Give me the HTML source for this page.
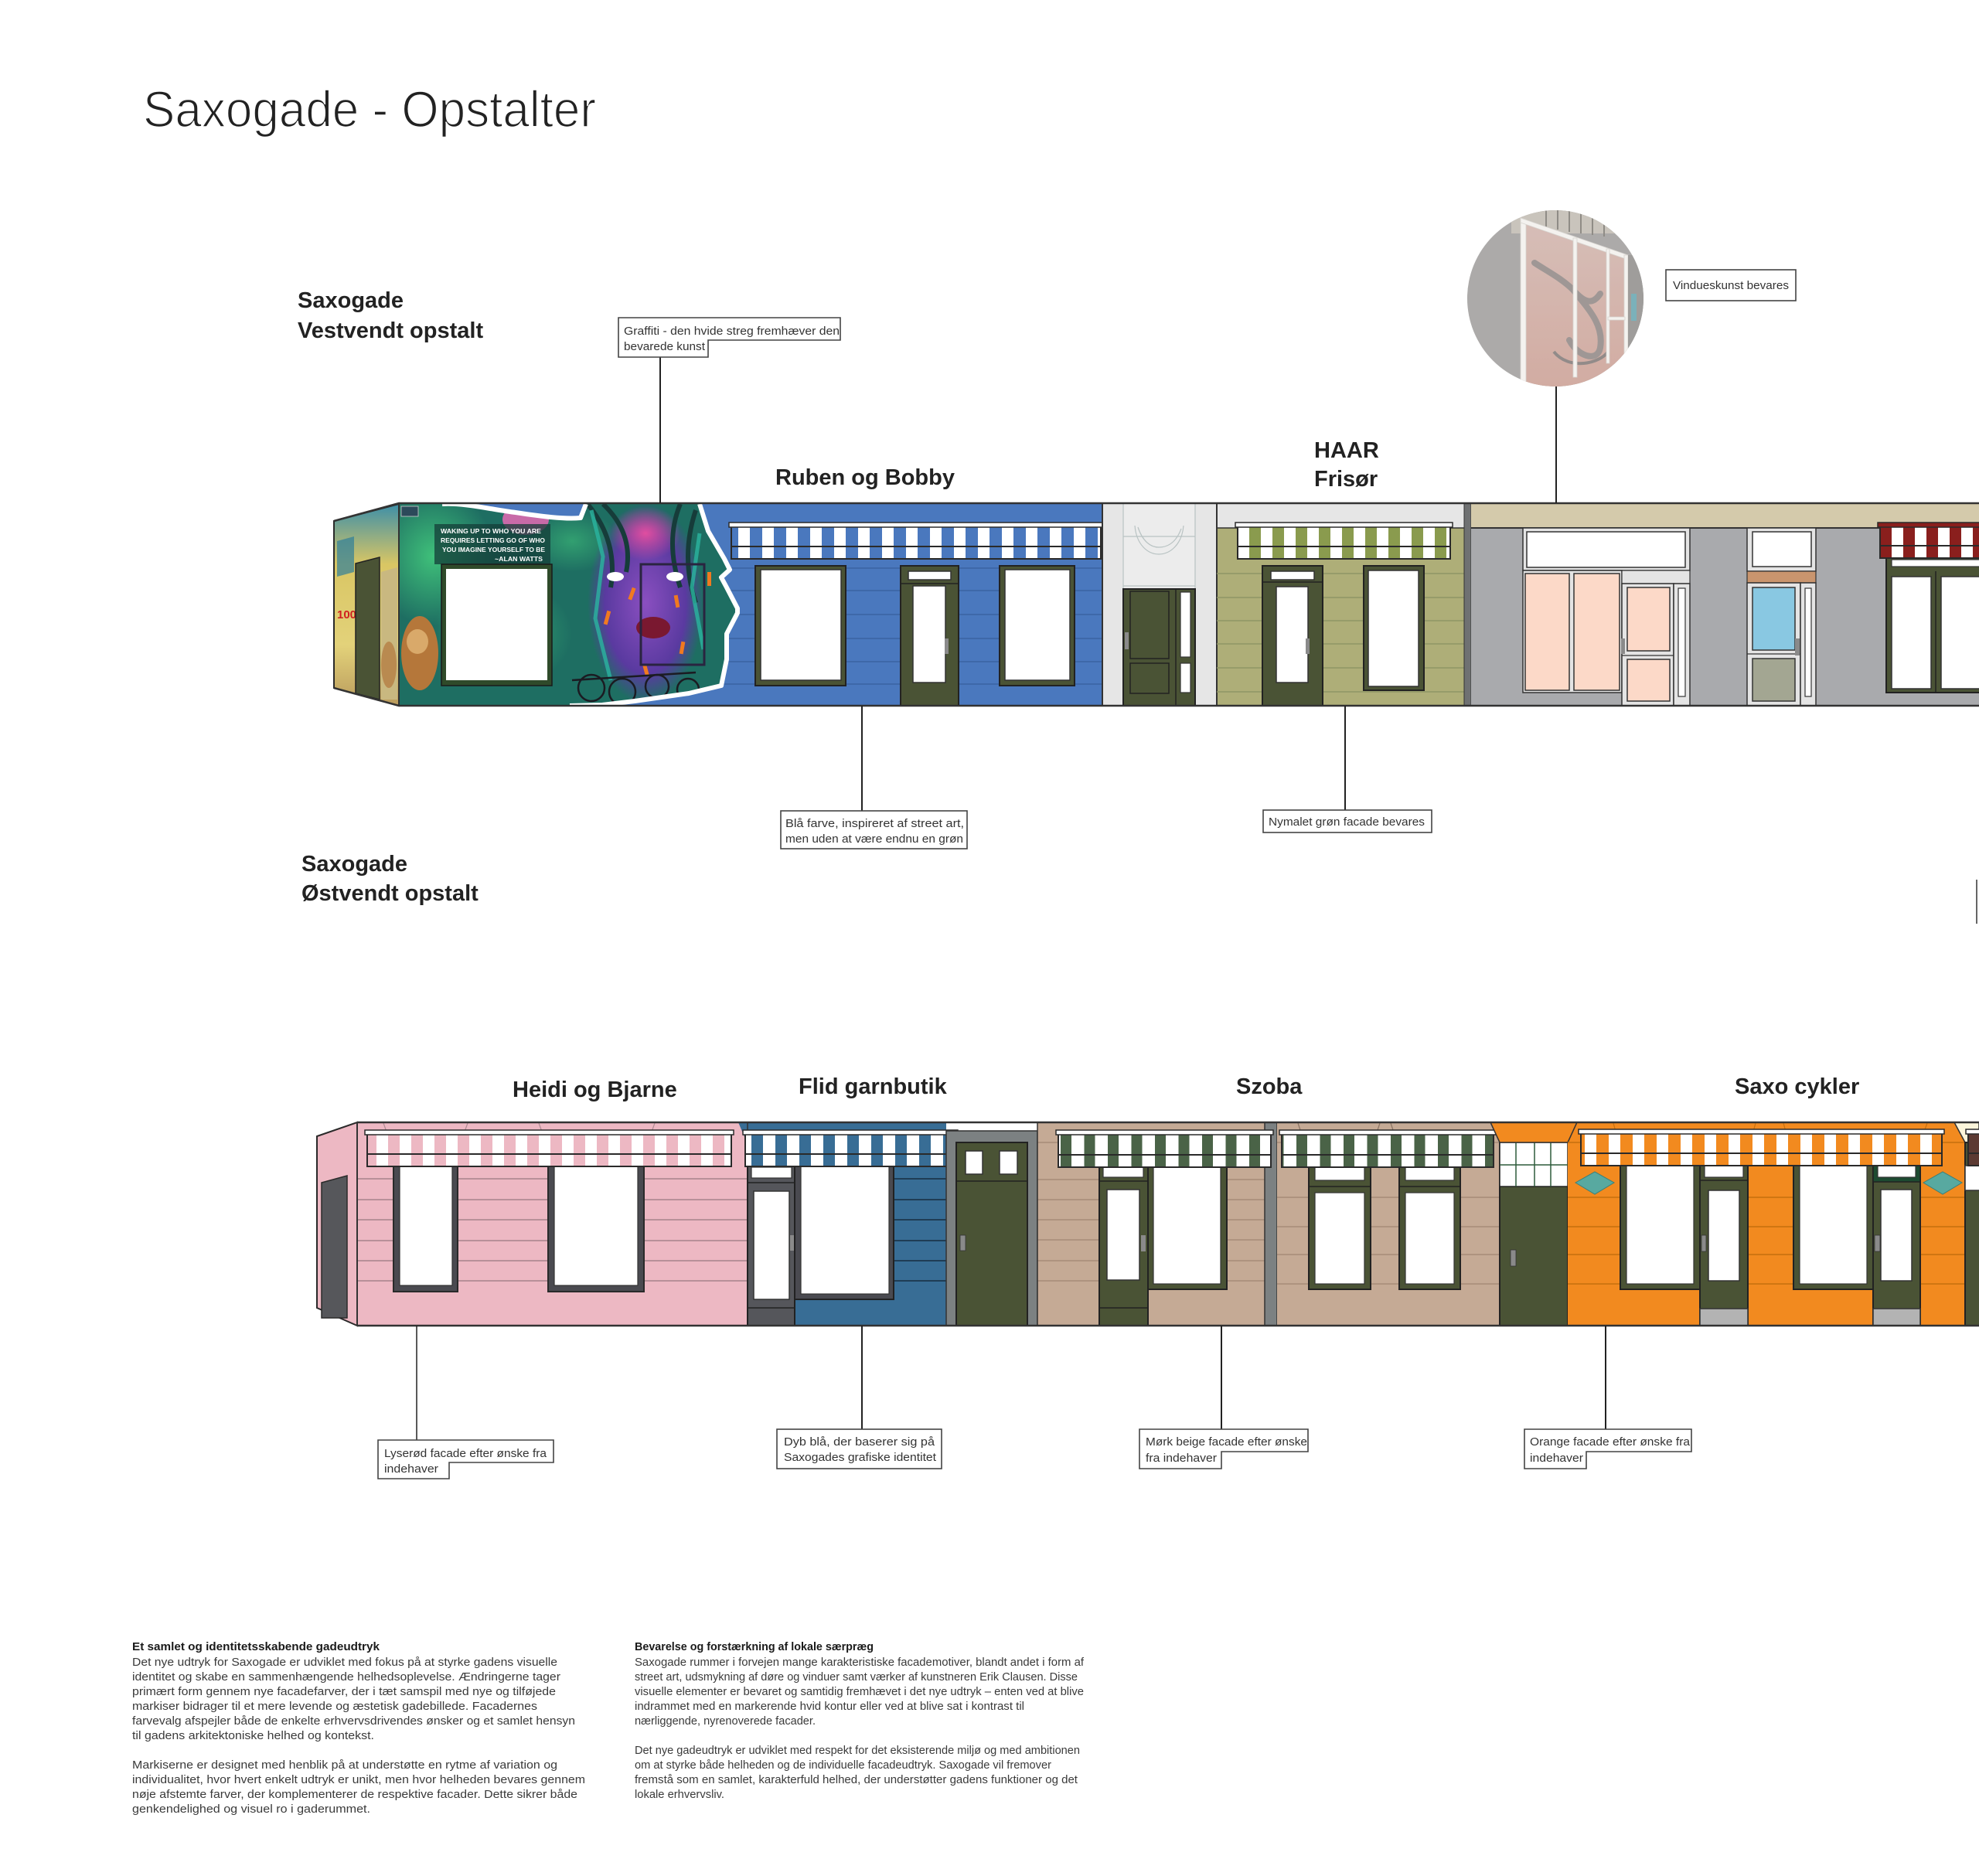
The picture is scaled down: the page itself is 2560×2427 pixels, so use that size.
<!DOCTYPE html>
<html><head><meta charset="utf-8">
<style>
html,body{margin:0;padding:0;background:#fff;}
body{width:2560px;height:2427px;overflow:hidden;}
svg{display:block}
text{font-family:"Liberation Sans",Arial,sans-serif;}
</style></head>
<body>
<svg width="2560" height="2427" viewBox="0 0 2560 2427" xmlns="http://www.w3.org/2000/svg">
<defs>
  <pattern id="pB" patternUnits="userSpaceOnUse" x="946" y="0" width="31" height="100"><rect width="31" height="100" fill="#4a78be"/><rect x="9" width="15" height="100" fill="#fff"/></pattern>
  <pattern id="pG" patternUnits="userSpaceOnUse" x="1601" y="0" width="30" height="100"><rect width="30" height="100" fill="#fff"/><rect x="15" width="15" height="100" fill="#8a9b4e"/></pattern>
  <pattern id="pR" patternUnits="userSpaceOnUse" x="2432" y="0" width="30" height="100"><rect width="30" height="100" fill="#fff"/><rect x="0" width="15" height="100" fill="#8a1f1d"/></pattern>
  <pattern id="pP" patternUnits="userSpaceOnUse" x="475" y="0" width="30" height="100"><rect width="30" height="100" fill="#edb8c3"/><rect x="12" width="15" height="100" fill="#fff"/></pattern>
  <pattern id="pF" patternUnits="userSpaceOnUse" x="964" y="0" width="31" height="100"><rect width="31" height="100" fill="#fff"/><rect x="8" width="15" height="100" fill="#386d95"/></pattern>
  <pattern id="pS" patternUnits="userSpaceOnUse" x="1369" y="0" width="30.5" height="100"><rect width="30.5" height="100" fill="#fff"/><rect x="3" width="14" height="100" fill="#4a6347"/></pattern>
  <pattern id="pO" patternUnits="userSpaceOnUse" x="2045" y="0" width="31" height="100"><rect width="31" height="100" fill="#f28a1f"/><rect x="5" width="15" height="100" fill="#fff"/></pattern>
  <pattern id="pBr" patternUnits="userSpaceOnUse" x="2546" y="0" width="30" height="100"><rect width="30" height="100" fill="#fff"/><rect x="0" width="14" height="100" fill="#5c3a33"/></pattern>
  <clipPath id="gclip"><path d="M516,652 L572,652 C600,650 640,660 667,663 C700,668 730,672 751,670 L758,652 L905,652 L916,687 L937,723 L944,737 L933,747 L940,760 L954,787 L954,793 L940,820 L940,853 L933,887 L891,897 L821,907 L779,912 L737,913 L516,913 Z"/></clipPath>
  <clipPath id="cc"><circle cx="2012" cy="386" r="114"/></clipPath>
  <radialGradient id="rg1" cx="0.5" cy="0.5" r="0.5"><stop offset="0" stop-color="#3fc07a"/><stop offset="1" stop-color="#3fc07a" stop-opacity="0"/></radialGradient>
  <radialGradient id="rg2" cx="0.5" cy="0.5" r="0.5"><stop offset="0" stop-color="#e04ea0"/><stop offset="1" stop-color="#e04ea0" stop-opacity="0"/></radialGradient>
  <radialGradient id="rg3" cx="0.5" cy="0.5" r="0.5"><stop offset="0" stop-color="#8a4fc0"/><stop offset="0.7" stop-color="#5a3aa0"/><stop offset="1" stop-color="#5a3aa0" stop-opacity="0"/></radialGradient>
  <linearGradient id="sideg" x1="0" y1="0" x2="0" y2="1"><stop offset="0" stop-color="#3d8fa8"/><stop offset="0.3" stop-color="#d9c664"/><stop offset="0.7" stop-color="#e3d27a"/><stop offset="1" stop-color="#b99a5c"/></linearGradient>
  <linearGradient id="pinkg" x1="0" y1="0" x2="0" y2="1"><stop offset="0" stop-color="#cdb0a8"/><stop offset="1" stop-color="#c99a8e"/></linearGradient>
</defs>

<!-- TITLE -->
<text x="185" y="164" font-size="66" fill="#222" stroke="#fff" stroke-width="1.6" textLength="586" lengthAdjust="spacingAndGlyphs">Saxogade - Opstalter</text>

<!-- Section headings -->
<text x="385" y="398" font-size="29" font-weight="bold" fill="#222">Saxogade</text>
<text x="385" y="437" font-size="29" font-weight="bold" fill="#222">Vestvendt opstalt</text>
<text x="390" y="1127" font-size="29" font-weight="bold" fill="#222">Saxogade</text>
<text x="390" y="1165" font-size="29" font-weight="bold" fill="#222">Østvendt opstalt</text>

<text x="1003" y="627" font-size="29" font-weight="bold" fill="#222">Ruben og Bobby</text>
<text x="1700" y="592" font-size="29" font-weight="bold" fill="#222">HAAR</text>
<text x="1700" y="629" font-size="29" font-weight="bold" fill="#222">Frisør</text>

<text x="663" y="1419" font-size="29" font-weight="bold" fill="#222">Heidi og Bjarne</text>
<text x="1033" y="1415" font-size="29" font-weight="bold" fill="#222">Flid garnbutik</text>
<text x="1599" y="1415" font-size="29" font-weight="bold" fill="#222">Szoba</text>
<text x="2244" y="1415" font-size="29" font-weight="bold" fill="#222">Saxo cykler</text>

<!-- ================= TOP ROW ================= -->
<polygon points="432,674 516,652 516,913 432,890" fill="url(#sideg)" stroke="#2a2a2a" stroke-width="2"/>
<polygon points="436,700 458,694 458,740 436,746" fill="#2f7f9a" opacity="0.7"/>
<text x="436" y="800" font-size="15" font-weight="bold" fill="#d02020">100</text>
<polygon points="460,729 491,721 491,905 460,897" fill="#4a5335" stroke="#222" stroke-width="1.5"/>
<polygon points="493,740 514,734 514,905 493,905" fill="#c9b880"/>
<ellipse cx="503" cy="860" rx="10" ry="30" fill="#b98a50"/>

<rect x="516" y="651" width="910" height="262" fill="#4a78be"/>
<g stroke="#3b62a2" stroke-width="1.5">
  <line x1="900" y1="735" x2="1426" y2="735"/><line x1="900" y1="764" x2="1426" y2="764"/>
  <line x1="900" y1="795" x2="1426" y2="795"/><line x1="900" y1="826" x2="1426" y2="826"/>
  <line x1="900" y1="856" x2="1426" y2="856"/><line x1="900" y1="885" x2="1426" y2="885"/>
</g>

<g clip-path="url(#gclip)">
  <rect x="516" y="651" width="440" height="262" fill="#1e6e62"/>
  <ellipse cx="560" cy="720" rx="80" ry="90" fill="url(#rg1)"/>
  <ellipse cx="650" cy="820" rx="90" ry="70" fill="url(#rg1)" opacity="0.7"/>
  <ellipse cx="740" cy="700" rx="60" ry="40" fill="url(#rg1)" opacity="0.6"/>
  <ellipse cx="680" cy="672" rx="30" ry="20" fill="#c86aa8"/>
  <ellipse cx="835" cy="780" rx="75" ry="130" fill="url(#rg3)"/>
  <ellipse cx="835" cy="690" rx="45" ry="35" fill="url(#rg2)"/>
  <path d="M760,652 Q800,700 790,760 M780,652 Q820,690 810,740 M880,652 Q860,700 880,760 M900,660 Q880,720 900,780" stroke="#163c3a" stroke-width="6" fill="none"/>
  <path d="M765,660 L780,720 L770,800 L790,880 M905,690 L895,760 L910,840" stroke="#2bb5a0" stroke-width="5" fill="none" opacity="0.8"/>
  <ellipse cx="796" cy="746" rx="11" ry="6" fill="#fff"/>
  <ellipse cx="873" cy="746" rx="11" ry="6" fill="#fff"/>
  <ellipse cx="845" cy="812" rx="22" ry="14" fill="#7a1830"/>
  <g fill="#f07a20">
    <rect x="815" y="760" width="5" height="16" transform="rotate(20 817 768)"/>
    <rect x="783" y="790" width="5" height="18" transform="rotate(15 785 799)"/>
    <rect x="873" y="770" width="5" height="16" transform="rotate(-10 875 778)"/>
    <rect x="880" y="830" width="5" height="16" transform="rotate(10 882 838)"/>
    <rect x="915" y="740" width="5" height="18"/>
    <rect x="833" y="860" width="5" height="14" transform="rotate(-15 835 867)"/>
  </g>
  <ellipse cx="543" cy="845" rx="24" ry="48" fill="#b5773a"/>
  <ellipse cx="540" cy="830" rx="14" ry="16" fill="#d9a96a"/>
  <rect x="562" y="678" width="150" height="52" fill="#143e38" opacity="0.75"/>
  <rect x="519" y="655" width="22" height="13" fill="#2c4a5a" stroke="#ccc" stroke-width="0.8"/>
  <g fill="none" stroke="#1b1b22" stroke-width="2.5">
    <circle cx="765" cy="890" r="17"/><circle cx="805" cy="895" r="17"/><circle cx="850" cy="888" r="15"/><circle cx="890" cy="892" r="14"/>
    <path d="M740,880 L900,870"/>
  </g>
  <rect x="571" y="730" width="143" height="157" fill="#2f4a2a" stroke="#1a1a1a" stroke-width="1.5"/>
  <rect x="577" y="736" width="131" height="144" fill="#fff"/>
  <rect x="829" y="730" width="82" height="130" fill="none" stroke="#2a2440" stroke-width="3"/>
  <text x="570" y="690" font-size="8.5" font-weight="bold" fill="#fff" textLength="130" lengthAdjust="spacingAndGlyphs">WAKING UP TO WHO YOU ARE</text>
  <text x="570" y="702" font-size="8.5" font-weight="bold" fill="#fff" textLength="135" lengthAdjust="spacingAndGlyphs">REQUIRES LETTING GO OF WHO</text>
  <text x="572" y="714" font-size="8.5" font-weight="bold" fill="#fff" textLength="133" lengthAdjust="spacingAndGlyphs">YOU IMAGINE YOURSELF TO BE</text>
  <text x="640" y="726" font-size="8.5" font-weight="bold" fill="#fff" textLength="62" lengthAdjust="spacingAndGlyphs">~ALAN WATTS</text>
</g>
<path d="M572,652 C600,650 640,660 667,663 C700,668 730,672 751,670 L758,652 M905,652 L916,687 L937,723 L944,737 L933,747 L940,760 L954,787 L954,793 L940,820 L940,853 L933,887 L891,897 L821,907 L779,912 L737,913" fill="none" stroke="#fff" stroke-width="6" stroke-linejoin="round"/>

<rect x="946" y="681" width="478" height="42" fill="url(#pB)" stroke="#2a2a2a" stroke-width="2"/>
<line x1="946" y1="707" x2="1424" y2="707" stroke="#2a2a2a" stroke-width="2"/>
<rect x="943" y="676" width="484" height="6" fill="#fff" stroke="#2a2a2a" stroke-width="1.5"/>
<rect x="977" y="732" width="117" height="155" fill="#4a5335" stroke="#222" stroke-width="2"/>
<rect x="984" y="737" width="104" height="143" fill="#fff" stroke="#333" stroke-width="1.5"/>
<rect x="1165" y="732" width="75" height="181" fill="#4a5335" stroke="#222" stroke-width="2"/>
<rect x="1175" y="739" width="55" height="11" fill="#fff" stroke="#333" stroke-width="1.5"/>
<line x1="1165" y1="755" x2="1240" y2="755" stroke="#222" stroke-width="1.5"/>
<rect x="1181" y="758" width="42" height="125" fill="#fff" stroke="#333" stroke-width="1.5"/>
<rect x="1222" y="826" width="5" height="20" fill="#8a8a8a"/>
<rect x="1293" y="732" width="97" height="155" fill="#4a5335" stroke="#222" stroke-width="2"/>
<rect x="1300" y="737" width="84" height="143" fill="#fff" stroke="#333" stroke-width="1.5"/>

<rect x="1426" y="651" width="148" height="262" fill="#e6e6e6" stroke="#333" stroke-width="1.5"/>
<rect x="1453" y="651" width="93" height="111" fill="#ececec"/>
<g stroke="#b9c3c3" stroke-width="1.2" fill="none">
  <line x1="1453" y1="651" x2="1453" y2="762"/><line x1="1546" y1="651" x2="1546" y2="762"/>
  <line x1="1453" y1="694" x2="1546" y2="694"/><line x1="1453" y1="758" x2="1546" y2="758"/><line x1="1453" y1="782" x2="1546" y2="782"/>
  <path d="M1468,680 C1470,705 1485,717 1499,717 C1513,717 1529,705 1531,680"/>
  <path d="M1472,682 C1478,700 1488,708 1499,708 C1512,708 1522,700 1528,684"/>
</g>
<rect x="1453" y="762" width="93" height="151" fill="#4a5335" stroke="#222" stroke-width="2"/>
<line x1="1521" y1="762" x2="1521" y2="913" stroke="#222" stroke-width="1.5"/>
<rect x="1462" y="765" width="50" height="87" fill="#4a5335" stroke="#222" stroke-width="1.5"/>
<rect x="1462" y="858" width="50" height="39" fill="#4a5335" stroke="#222" stroke-width="1.5"/>
<rect x="1527" y="766" width="13" height="84" fill="#fff" stroke="#333" stroke-width="1.2"/>
<rect x="1527" y="858" width="13" height="38" fill="#fff" stroke="#333" stroke-width="1.2"/>
<rect x="1455" y="818" width="5" height="22" fill="#8a8a8a"/>

<rect x="1574" y="651" width="320" height="32" fill="#e6e6e6"/>
<rect x="1574" y="683" width="320" height="230" fill="#aeae78"/>
<line x1="1574" y1="683" x2="1894" y2="683" stroke="#333" stroke-width="1.5"/>
<line x1="1574" y1="651" x2="1574" y2="913" stroke="#333" stroke-width="2"/>
<g stroke="#8d9566" stroke-width="1.5">
  <line x1="1574" y1="742" x2="1894" y2="742"/><line x1="1574" y1="773" x2="1894" y2="773"/>
  <line x1="1574" y1="803" x2="1894" y2="803"/><line x1="1574" y1="833" x2="1894" y2="833"/>
  <line x1="1574" y1="864" x2="1894" y2="864"/><line x1="1574" y1="895" x2="1894" y2="895"/>
</g>
<rect x="1601" y="681" width="275" height="42" fill="url(#pG)" stroke="#2a2a2a" stroke-width="2"/>
<line x1="1601" y1="707" x2="1876" y2="707" stroke="#2a2a2a" stroke-width="2"/>
<rect x="1598" y="676" width="281" height="6" fill="#fff" stroke="#2a2a2a" stroke-width="1.5"/>
<rect x="1633" y="732" width="78" height="181" fill="#4a5335" stroke="#222" stroke-width="2"/>
<rect x="1644" y="739" width="56" height="11" fill="#fff" stroke="#333" stroke-width="1.5"/>
<line x1="1633" y1="753" x2="1711" y2="753" stroke="#222" stroke-width="1.5"/>
<rect x="1651" y="759" width="41" height="124" fill="#fff" stroke="#333" stroke-width="1.5"/>
<rect x="1689" y="826" width="5" height="20" fill="#8a8a8a"/>
<rect x="1764" y="732" width="78" height="161" fill="#4a5335" stroke="#222" stroke-width="2"/>
<rect x="1770" y="738" width="65" height="150" fill="#fff" stroke="#333" stroke-width="1.5"/>

<rect x="1894" y="651" width="9" height="262" fill="#6f7172" stroke="#333" stroke-width="1"/>

<rect x="1903" y="651" width="657" height="32" fill="#d4caab"/>
<rect x="1903" y="683" width="657" height="230" fill="#a9aaad"/>
<line x1="1903" y1="683" x2="2560" y2="683" stroke="#333" stroke-width="2"/>

<rect x="1970" y="683" width="216" height="55" fill="#e4e4e4" stroke="#333" stroke-width="1.5"/>
<rect x="1975" y="688" width="205" height="46" fill="#fff" stroke="#333" stroke-width="1.5"/>
<rect x="1970" y="738" width="128" height="158" fill="#e4e4e4" stroke="#333" stroke-width="1.5"/>
<rect x="1973" y="742" width="57" height="151" fill="#fcd9c8" stroke="#333" stroke-width="1.5"/>
<rect x="2036" y="742" width="59" height="151" fill="#fcd9c8" stroke="#333" stroke-width="1.5"/>
<rect x="2098" y="738" width="88" height="17" fill="#e4e4e4" stroke="#333" stroke-width="1.2"/>
<rect x="2098" y="755" width="67" height="158" fill="#e4e4e4" stroke="#333" stroke-width="1.5"/>
<rect x="2105" y="760" width="55" height="82" fill="#fcd9c8" stroke="#333" stroke-width="1.5"/>
<line x1="2098" y1="848" x2="2165" y2="848" stroke="#333" stroke-width="1.2"/>
<rect x="2105" y="853" width="55" height="54" fill="#fcd9c8" stroke="#333" stroke-width="1.5"/>
<rect x="2165" y="755" width="21" height="158" fill="#e4e4e4" stroke="#333" stroke-width="1.5"/>
<rect x="2171" y="761" width="9" height="140" fill="#fff" stroke="#333" stroke-width="1.2"/>
<rect x="2097" y="826" width="5" height="20" fill="#8a8a8a"/>

<rect x="2260" y="683" width="89" height="56" fill="#e4e4e4" stroke="#333" stroke-width="1.5"/>
<rect x="2267" y="688" width="76" height="45" fill="#fff" stroke="#333" stroke-width="1.5"/>
<rect x="2260" y="739" width="89" height="15" fill="#c9956e" stroke="#333" stroke-width="1.2"/>
<rect x="2260" y="754" width="69" height="159" fill="#e4e4e4" stroke="#333" stroke-width="1.5"/>
<rect x="2267" y="760" width="55" height="81" fill="#89c8e2" stroke="#333" stroke-width="1.5"/>
<line x1="2260" y1="846" x2="2329" y2="846" stroke="#333" stroke-width="1.2"/>
<rect x="2267" y="852" width="55" height="55" fill="#a3a692" stroke="#333" stroke-width="1.5"/>
<rect x="2329" y="754" width="20" height="159" fill="#e4e4e4" stroke="#333" stroke-width="1.5"/>
<rect x="2335" y="761" width="8" height="140" fill="#fff" stroke="#333" stroke-width="1.2"/>
<rect x="2322" y="826" width="6" height="22" fill="#8a8a8a"/>

<rect x="2440" y="722" width="130" height="174" fill="#4a5335" stroke="#222" stroke-width="2"/>
<rect x="2447" y="724" width="120" height="9" fill="#fff" stroke="#333" stroke-width="1.2"/>
<rect x="2447" y="746" width="51" height="145" fill="#fff" stroke="#333" stroke-width="1.5"/>
<rect x="2511" y="746" width="60" height="145" fill="#fff" stroke="#333" stroke-width="1.5"/>
<line x1="2504" y1="739" x2="2504" y2="896" stroke="#222" stroke-width="1.5"/>
<rect x="2432" y="681" width="140" height="41" fill="url(#pR)" stroke="#2a2a2a" stroke-width="2"/>
<line x1="2432" y1="706" x2="2560" y2="706" stroke="#2a2a2a" stroke-width="2"/>
<rect x="2429" y="676" width="140" height="6" fill="#8a1f1d" stroke="#2a2a2a" stroke-width="1.5"/>

<path d="M432,674 L516,651 L2560,651" fill="none" stroke="#333" stroke-width="2.5"/>
<path d="M432,890 L516,913 L2560,913" fill="none" stroke="#333" stroke-width="2.5"/>
<line x1="516" y1="651" x2="516" y2="913" stroke="#333" stroke-width="2"/>
<line x1="1426" y1="651" x2="1426" y2="913" stroke="#333" stroke-width="2"/>

<!-- circle photo -->
<g clip-path="url(#cc)">
  <rect x="1896" y="270" width="234" height="234" fill="#9a9896"/>
  <rect x="1955" y="270" width="160" height="32" fill="#bdb8ae"/>
  <g stroke="#77736c" stroke-width="2"><line x1="2000" y1="272" x2="2000" y2="296"/><line x1="2015" y1="272" x2="2015" y2="297"/><line x1="2030" y1="272" x2="2030" y2="300"/><line x1="2045" y1="272" x2="2045" y2="302"/><line x1="2060" y1="272" x2="2060" y2="304"/><line x1="2075" y1="272" x2="2075" y2="306"/></g>
  <polygon points="1972,285 2106,333 2106,500 1972,500" fill="url(#pinkg)"/>
  <path d="M1985,340 C2000,350 2020,360 2035,375 C2050,392 2060,395 2070,380 M2035,375 C2055,400 2075,420 2070,450 C2066,470 2040,460 2030,440" fill="none" stroke="#8a807e" stroke-width="8" stroke-linecap="round"/>
  <path d="M2010,455 C2030,480 2070,470 2080,455" fill="none" stroke="#7a7270" stroke-width="4"/>
  <g fill="#f2f0ec" stroke="#cfcbc6" stroke-width="0.8">
    <polygon points="1967,282 1974,284 1974,500 1967,500"/>
    <polygon points="1967,282 2106,330 2106,336 1967,288"/>
    <rect x="2035" y="308" width="5" height="180"/>
    <rect x="2078" y="322" width="4" height="148"/>
    <rect x="2101" y="330" width="5" height="140"/>
    <rect x="2080" y="410" width="22" height="4"/>
  </g>
  <rect x="2106" y="330" width="22" height="150" fill="#8a8886"/>
  <rect x="2110" y="380" width="7" height="35" fill="#5fa0ab"/>
  <rect x="1896" y="270" width="234" height="234" fill="#fff" opacity="0.18"/>
</g>

<!-- ================= BOTTOM ROW ================= -->
<polygon points="410,1470 462,1452 462,1715 410,1692" fill="#edb8c3" stroke="#2a2a2a" stroke-width="2"/>
<polygon points="416,1530 449,1521 449,1705 416,1705" fill="#56575b" stroke="#2a2a2a" stroke-width="1.5"/>

<rect x="462" y="1452" width="505" height="263" fill="#edb8c3"/>
<g stroke="#b08b93" stroke-width="1.8">
  <line x1="462" y1="1525" x2="967" y2="1525"/><line x1="462" y1="1552" x2="967" y2="1552"/>
  <line x1="462" y1="1578" x2="967" y2="1578"/><line x1="462" y1="1605" x2="967" y2="1605"/>
  <line x1="462" y1="1631" x2="967" y2="1631"/><line x1="462" y1="1657" x2="967" y2="1657"/>
</g>
<g stroke="#b08b93" stroke-width="1.2">
  <line x1="496" y1="1453" x2="500" y2="1464"/><line x1="605" y1="1453" x2="601" y2="1464"/>
  <line x1="697" y1="1453" x2="701" y2="1464"/><line x1="847" y1="1453" x2="843" y2="1464"/>
</g>
<rect x="509" y="1509" width="83" height="162" fill="#4a4a50" stroke="#2a2a2a" stroke-width="2"/>
<rect x="517" y="1509" width="68" height="154" fill="#fff" stroke="#333" stroke-width="1.2"/>
<rect x="709" y="1509" width="124" height="162" fill="#4a4a50" stroke="#2a2a2a" stroke-width="2"/>
<rect x="717" y="1509" width="108" height="154" fill="#fff" stroke="#333" stroke-width="1.2"/>
<rect x="475" y="1467" width="471" height="42" fill="url(#pP)" stroke="#2a2a2a" stroke-width="2"/>
<line x1="475" y1="1493" x2="946" y2="1493" stroke="#2a2a2a" stroke-width="2"/>
<rect x="472" y="1462" width="477" height="6" fill="#fff" stroke="#2a2a2a" stroke-width="1.5"/>

<polygon points="955,1452 967,1452 967,1480" fill="#386d95"/>
<rect x="967" y="1452" width="257" height="263" fill="#386d95"/>
<g stroke="#1f3d55" stroke-width="2">
  <line x1="1156" y1="1525" x2="1224" y2="1525"/><line x1="1156" y1="1552" x2="1224" y2="1552"/>
  <line x1="1156" y1="1578" x2="1224" y2="1578"/><line x1="1156" y1="1605" x2="1224" y2="1605"/>
  <line x1="1156" y1="1631" x2="1224" y2="1631"/><line x1="1156" y1="1657" x2="1224" y2="1657"/>
</g>
<line x1="967" y1="1452" x2="967" y2="1715" stroke="#333" stroke-width="1.5"/>
<rect x="967" y="1509" width="61" height="206" fill="#55565b" stroke="#222" stroke-width="2"/>
<rect x="972" y="1510" width="52" height="14" fill="#fff" stroke="#333" stroke-width="1.2"/>
<line x1="967" y1="1530" x2="1028" y2="1530" stroke="#222" stroke-width="1.5"/>
<rect x="975" y="1541" width="46" height="140" fill="#fff" stroke="#333" stroke-width="1.5"/>
<line x1="967" y1="1692" x2="1028" y2="1692" stroke="#222" stroke-width="1.5"/>
<rect x="1022" y="1598" width="6" height="20" fill="#8a8a8a"/>
<rect x="1028" y="1509" width="128" height="172" fill="#4a4a50" stroke="#222" stroke-width="2"/>
<rect x="1036" y="1509" width="114" height="165" fill="#fff" stroke="#333" stroke-width="1.2"/>
<rect x="964" y="1467" width="272" height="42" fill="url(#pF)" stroke="#2a2a2a" stroke-width="2"/>
<line x1="964" y1="1493" x2="1236" y2="1493" stroke="#2a2a2a" stroke-width="2"/>
<rect x="961" y="1462" width="278" height="6" fill="#fff" stroke="#2a2a2a" stroke-width="1.5"/>
<rect x="1224" y="1463" width="118" height="252" fill="#7c8182" stroke="#333" stroke-width="1.5"/>
<rect x="1237" y="1478" width="92" height="237" fill="#4a5335" stroke="#222" stroke-width="2"/>
<rect x="1249" y="1489" width="22" height="30" fill="#fff" stroke="#333" stroke-width="1.5"/>
<rect x="1293" y="1489" width="23" height="30" fill="#fff" stroke="#333" stroke-width="1.5"/>
<line x1="1237" y1="1528" x2="1329" y2="1528" stroke="#222" stroke-width="1.5"/>
<rect x="1242" y="1598" width="7" height="20" fill="#8a8a8a" stroke="#333" stroke-width="0.8"/>

<rect x="1342" y="1452" width="294" height="263" fill="#c5aa95"/>
<g stroke="#a68b78" stroke-width="1.5">
  <line x1="1342" y1="1478" x2="1636" y2="1478"/><line x1="1342" y1="1526" x2="1636" y2="1526"/>
  <line x1="1342" y1="1552" x2="1636" y2="1552"/><line x1="1342" y1="1578" x2="1636" y2="1578"/>
  <line x1="1342" y1="1604" x2="1636" y2="1604"/><line x1="1342" y1="1631" x2="1636" y2="1631"/>
  <line x1="1342" y1="1657" x2="1636" y2="1657"/>
</g>
<line x1="1342" y1="1452" x2="1342" y2="1715" stroke="#333" stroke-width="1.5"/>
<rect x="1422" y="1510" width="63" height="205" fill="#4a5335" stroke="#222" stroke-width="2"/>
<rect x="1427" y="1510" width="52" height="13" fill="#fff" stroke="#333" stroke-width="1.2"/>
<line x1="1422" y1="1528" x2="1485" y2="1528" stroke="#222" stroke-width="1.5"/>
<rect x="1432" y="1539" width="42" height="117" fill="#fff" stroke="#333" stroke-width="1.5"/>
<line x1="1422" y1="1692" x2="1485" y2="1692" stroke="#222" stroke-width="1.5"/>
<rect x="1476" y="1598" width="6" height="21" fill="#8a8a8a"/>
<rect x="1485" y="1510" width="102" height="158" fill="#4a5335" stroke="#222" stroke-width="2"/>
<rect x="1492" y="1510" width="87" height="151" fill="#fff" stroke="#333" stroke-width="1.2"/>

<rect x="1636" y="1452" width="16" height="263" fill="#7c8182" stroke="#333" stroke-width="1.5"/>

<rect x="1652" y="1452" width="288" height="263" fill="#c5aa95"/>
<g stroke="#a68b78" stroke-width="1.5">
  <line x1="1652" y1="1478" x2="1940" y2="1478"/><line x1="1652" y1="1549" x2="1940" y2="1549"/>
  <line x1="1652" y1="1587" x2="1940" y2="1587"/><line x1="1652" y1="1623" x2="1940" y2="1623"/>
  <line x1="1652" y1="1661" x2="1940" y2="1661"/>
</g>
<g stroke="#8a7464" stroke-width="1.2">
  <line x1="1679" y1="1453" x2="1683" y2="1465"/><line x1="1785" y1="1453" x2="1781" y2="1465"/>
  <line x1="1799" y1="1453" x2="1803" y2="1465"/>
</g>
<rect x="1693" y="1510" width="80" height="158" fill="#4a5335" stroke="#222" stroke-width="2"/>
<rect x="1701" y="1510" width="64" height="17" fill="#fff" stroke="#333" stroke-width="1.2"/>
<line x1="1693" y1="1535" x2="1773" y2="1535" stroke="#222" stroke-width="1.5"/>
<rect x="1701" y="1543" width="64" height="118" fill="#fff" stroke="#333" stroke-width="1.2"/>
<rect x="1810" y="1510" width="79" height="158" fill="#4a5335" stroke="#222" stroke-width="2"/>
<rect x="1818" y="1510" width="63" height="17" fill="#fff" stroke="#333" stroke-width="1.2"/>
<line x1="1810" y1="1535" x2="1889" y2="1535" stroke="#222" stroke-width="1.5"/>
<rect x="1818" y="1543" width="63" height="118" fill="#fff" stroke="#333" stroke-width="1.2"/>

<rect x="1369" y="1467" width="275" height="43" fill="url(#pS)" stroke="#2a2a2a" stroke-width="2"/>
<line x1="1369" y1="1494" x2="1644" y2="1494" stroke="#2a2a2a" stroke-width="2"/>
<rect x="1366" y="1462" width="281" height="6" fill="#fff" stroke="#2a2a2a" stroke-width="1.5"/>
<rect x="1658" y="1467" width="274" height="43" fill="url(#pS)" stroke="#2a2a2a" stroke-width="2"/>
<line x1="1658" y1="1494" x2="1932" y2="1494" stroke="#2a2a2a" stroke-width="2"/>
<rect x="1655" y="1462" width="280" height="6" fill="#fff" stroke="#2a2a2a" stroke-width="1.5"/>

<rect x="1940" y="1478" width="88" height="237" fill="#4a5335" stroke="#222" stroke-width="2"/>
<rect x="1940" y="1478" width="88" height="57" fill="#fff" stroke="#222" stroke-width="1.5"/>
<g stroke="#2d5a3a" stroke-width="1.5">
  <line x1="1961" y1="1478" x2="1961" y2="1535"/><line x1="1985" y1="1478" x2="1985" y2="1535"/>
  <line x1="2006" y1="1478" x2="2006" y2="1535"/><line x1="1940" y1="1507" x2="2028" y2="1507"/>
</g>
<rect x="1954" y="1617" width="7" height="21" fill="#8a8a8a" stroke="#333" stroke-width="0.8"/>

<rect x="2028" y="1452" width="514" height="263" fill="#f28a1f"/>
<polygon points="1928,1452 2040,1452 2028,1478 1940,1478" fill="#f28a1f" stroke="#333" stroke-width="1.5"/>
<g stroke="#c5700f" stroke-width="1.5">
  <line x1="2028" y1="1478" x2="2542" y2="1478"/><line x1="2028" y1="1549" x2="2542" y2="1549"/>
  <line x1="2028" y1="1587" x2="2542" y2="1587"/><line x1="2028" y1="1623" x2="2542" y2="1623"/>
  <line x1="2028" y1="1661" x2="2542" y2="1661"/>
</g>
<g stroke="#c5700f" stroke-width="1.2">
  <line x1="2087" y1="1453" x2="2090" y2="1464"/><line x1="2271" y1="1453" x2="2268" y2="1464"/>
  <line x1="2307" y1="1453" x2="2310" y2="1464"/><line x1="2493" y1="1453" x2="2489" y2="1464"/>
</g>
<rect x="2096" y="1508" width="103" height="160" fill="#4a5335" stroke="#222" stroke-width="2"/>
<rect x="2104" y="1508" width="87" height="153" fill="#fff" stroke="#333" stroke-width="1.2"/>
<rect x="2199" y="1508" width="62" height="207" fill="#4a5335" stroke="#222" stroke-width="2"/>
<rect x="2205" y="1508" width="50" height="15" fill="#fff" stroke="#333" stroke-width="1.2"/>
<line x1="2199" y1="1527" x2="2261" y2="1527" stroke="#222" stroke-width="1.5"/>
<rect x="2210" y="1540" width="40" height="117" fill="#fff" stroke="#333" stroke-width="1.5"/>
<rect x="2199" y="1693" width="62" height="22" fill="#b3b3b3" stroke="#333" stroke-width="1.5"/>
<rect x="2201" y="1598" width="6" height="21" fill="#8a8a8a" stroke="#333" stroke-width="0.8"/>
<rect x="2320" y="1508" width="103" height="160" fill="#4a5335" stroke="#222" stroke-width="2"/>
<rect x="2328" y="1508" width="87" height="153" fill="#fff" stroke="#333" stroke-width="1.2"/>
<rect x="2423" y="1508" width="61" height="207" fill="#4a5335" stroke="#222" stroke-width="2"/>
<rect x="2423" y="1508" width="61" height="21" fill="#1d4b31" stroke="#222" stroke-width="1.5"/>
<rect x="2429" y="1508" width="49" height="15" fill="#fff" stroke="#333" stroke-width="1.2"/>
<rect x="2433" y="1539" width="40" height="118" fill="#fff" stroke="#333" stroke-width="1.5"/>
<rect x="2423" y="1693" width="61" height="22" fill="#b3b3b3" stroke="#333" stroke-width="1.5"/>
<rect x="2425" y="1598" width="7" height="21" fill="#8a8a8a" stroke="#333" stroke-width="0.8"/>
<polygon points="2038,1530 2063,1516 2088,1530 2063,1545" fill="#58a9a0" stroke="#3b7f78" stroke-width="1"/>
<polygon points="2488,1530 2513,1516 2538,1530 2513,1545" fill="#58a9a0" stroke="#3b7f78" stroke-width="1"/>
<rect x="2045" y="1466" width="467" height="42" fill="url(#pO)" stroke="#2a2a2a" stroke-width="2"/>
<line x1="2045" y1="1492" x2="2512" y2="1492" stroke="#2a2a2a" stroke-width="2"/>
<rect x="2042" y="1461" width="473" height="6" fill="#fff" stroke="#2a2a2a" stroke-width="1.5"/>

<polygon points="2528,1452 2560,1452 2560,1478 2542,1478" fill="#fbf5da" stroke="#333" stroke-width="1.5"/>
<rect x="2542" y="1478" width="20" height="237" fill="#4a5335" stroke="#222" stroke-width="2"/>
<rect x="2542" y="1508" width="20" height="32" fill="#fff" stroke="#333" stroke-width="1.5"/>
<rect x="2546" y="1466" width="20" height="42" fill="url(#pBr)" stroke="#2a2a2a" stroke-width="2"/>
<line x1="2546" y1="1492" x2="2560" y2="1492" stroke="#2a2a2a" stroke-width="2"/>
<rect x="2543" y="1461" width="20" height="6" fill="#fff" stroke="#2a2a2a" stroke-width="1.5"/>

<line x1="462" y1="1452" x2="2560" y2="1452" stroke="#333" stroke-width="2.5"/>
<line x1="462" y1="1715" x2="2560" y2="1715" stroke="#333" stroke-width="2.5"/>
<line x1="462" y1="1452" x2="462" y2="1715" stroke="#333" stroke-width="2"/>

<!-- ================= CONNECTORS & LABELS ================= -->
<g stroke="#222" stroke-width="2">
  <line x1="854" y1="462" x2="854" y2="651"/>
  <line x1="1115" y1="913" x2="1115" y2="1049"/>
  <line x1="1740" y1="913" x2="1740" y2="1048"/>
  <line x1="2013" y1="500" x2="2013" y2="651"/>
  <line x1="539" y1="1715" x2="539" y2="1863" stroke-width="1.5"/>
  <line x1="1115" y1="1715" x2="1115" y2="1849"/>
  <line x1="1580" y1="1715" x2="1580" y2="1849"/>
  <line x1="2077" y1="1715" x2="2077" y2="1849"/>
  <line x1="2557" y1="1138" x2="2557" y2="1195" stroke="#666"/>
</g>

<g fill="#fff" stroke="#444" stroke-width="1.6">
  <polygon points="800,411 1087,411 1087,440 916,440 916,462 800,462"/>
  <rect x="1010" y="1049" width="241" height="49"/>
  <rect x="1634" y="1048" width="218" height="29"/>
  <rect x="2155" y="349" width="168" height="40"/>
  <polygon points="489,1863 716,1863 716,1892 581,1892 581,1913 489,1913"/>
  <rect x="1005" y="1849" width="213" height="51"/>
  <polygon points="1474,1849 1692,1849 1692,1878 1580,1878 1580,1900 1474,1900"/>
  <polygon points="1972,1849 2188,1849 2188,1878 2052,1878 2052,1900 1972,1900"/>
</g>
<g font-size="15" fill="#333">
  <text x="807" y="433" textLength="279" lengthAdjust="spacingAndGlyphs">Graffiti - den hvide streg fremhæver den</text>
  <text x="807" y="453" textLength="105" lengthAdjust="spacingAndGlyphs">bevarede kunst</text>
  <text x="1016" y="1070" textLength="231" lengthAdjust="spacingAndGlyphs">Blå farve, inspireret af street art,</text>
  <text x="1016" y="1090" textLength="230" lengthAdjust="spacingAndGlyphs">men uden at være endnu en grøn</text>
  <text x="1641" y="1068" textLength="202" lengthAdjust="spacingAndGlyphs">Nymalet grøn facade bevares</text>
  <text x="2164" y="374" textLength="150" lengthAdjust="spacingAndGlyphs">Vindueskunst bevares</text>
  <text x="497" y="1885" textLength="210" lengthAdjust="spacingAndGlyphs">Lyserød facade efter ønske fra</text>
  <text x="497" y="1905" textLength="70" lengthAdjust="spacingAndGlyphs">indehaver</text>
  <text x="1014" y="1870" textLength="195" lengthAdjust="spacingAndGlyphs">Dyb blå, der baserer sig på</text>
  <text x="1014" y="1890" textLength="197" lengthAdjust="spacingAndGlyphs">Saxogades grafiske identitet</text>
  <text x="1482" y="1870" textLength="209" lengthAdjust="spacingAndGlyphs">Mørk beige facade efter ønske</text>
  <text x="1482" y="1891" textLength="92" lengthAdjust="spacingAndGlyphs">fra indehaver</text>
  <text x="1979" y="1870" textLength="207" lengthAdjust="spacingAndGlyphs">Orange facade efter ønske fra</text>
  <text x="1979" y="1891" textLength="69" lengthAdjust="spacingAndGlyphs">indehaver</text>
</g>

<!-- ================= BODY TEXT ================= -->
<text x="171" y="2135" font-size="15" font-weight="bold" fill="#1a1a1a" textLength="320" lengthAdjust="spacingAndGlyphs">Et samlet og identitetsskabende gadeudtryk</text>
<g font-size="15" fill="#3a3a3a">
  <text x="171" y="2155" textLength="550" lengthAdjust="spacingAndGlyphs">Det nye udtryk for Saxogade er udviklet med fokus på at styrke gadens visuelle</text>
  <text x="171" y="2174" textLength="554" lengthAdjust="spacingAndGlyphs">identitet og skabe en sammenhængende helhedsoplevelse. Ændringerne tager</text>
  <text x="171" y="2193" textLength="548" lengthAdjust="spacingAndGlyphs">primært form gennem nye facadefarver, der i tæt samspil med nye og tilføjede</text>
  <text x="171" y="2212" textLength="524" lengthAdjust="spacingAndGlyphs">markiser bidrager til et mere levende og æstetisk gadebillede. Facadernes</text>
  <text x="171" y="2231" textLength="573" lengthAdjust="spacingAndGlyphs">farvevalg afspejler både de enkelte erhvervsdrivendes ønsker og et samlet hensyn</text>
  <text x="171" y="2250" textLength="313" lengthAdjust="spacingAndGlyphs">til gadens arkitektoniske helhed og kontekst.</text>
  <text x="171" y="2288" textLength="550" lengthAdjust="spacingAndGlyphs">Markiserne er designet med henblik på at understøtte en rytme af variation og</text>
  <text x="171" y="2307" textLength="586" lengthAdjust="spacingAndGlyphs">individualitet, hvor hvert enkelt udtryk er unikt, men hvor helheden bevares gennem</text>
  <text x="171" y="2326" textLength="576" lengthAdjust="spacingAndGlyphs">nøje afstemte farver, der komplementerer de respektive facader. Dette sikrer både</text>
  <text x="171" y="2345" textLength="308" lengthAdjust="spacingAndGlyphs">genkendelighed og visuel ro i gaderummet.</text>
</g>
<text x="821" y="2135" font-size="15" font-weight="bold" fill="#1a1a1a" textLength="309" lengthAdjust="spacingAndGlyphs">Bevarelse og forstærkning af lokale særpræg</text>
<g font-size="15" fill="#3a3a3a">
  <text x="821" y="2155" textLength="581" lengthAdjust="spacingAndGlyphs">Saxogade rummer i forvejen mange karakteristiske facademotiver, blandt andet i form af</text>
  <text x="821" y="2174" textLength="573" lengthAdjust="spacingAndGlyphs">street art, udsmykning af døre og vinduer samt værker af kunstneren Erik Clausen. Disse</text>
  <text x="821" y="2193" textLength="581" lengthAdjust="spacingAndGlyphs">visuelle elementer er bevaret og samtidig fremhævet i det nye udtryk – enten ved at blive</text>
  <text x="821" y="2212" textLength="504" lengthAdjust="spacingAndGlyphs">indrammet med en markerende hvid kontur eller ved at blive sat i kontrast til</text>
  <text x="821" y="2231" textLength="234" lengthAdjust="spacingAndGlyphs">nærliggende, nyrenoverede facader.</text>
  <text x="821" y="2269" textLength="576" lengthAdjust="spacingAndGlyphs">Det nye gadeudtryk er udviklet med respekt for det eksisterende miljø og med ambitionen</text>
  <text x="821" y="2288" textLength="539" lengthAdjust="spacingAndGlyphs">om at styrke både helheden og de individuelle facadeudtryk. Saxogade vil fremover</text>
  <text x="821" y="2307" textLength="573" lengthAdjust="spacingAndGlyphs">fremstå som en samlet, karakterfuld helhed, der understøtter gadens funktioner og det</text>
  <text x="821" y="2326" textLength="116" lengthAdjust="spacingAndGlyphs">lokale erhvervsliv.</text>
</g>
</svg>
</body></html>
